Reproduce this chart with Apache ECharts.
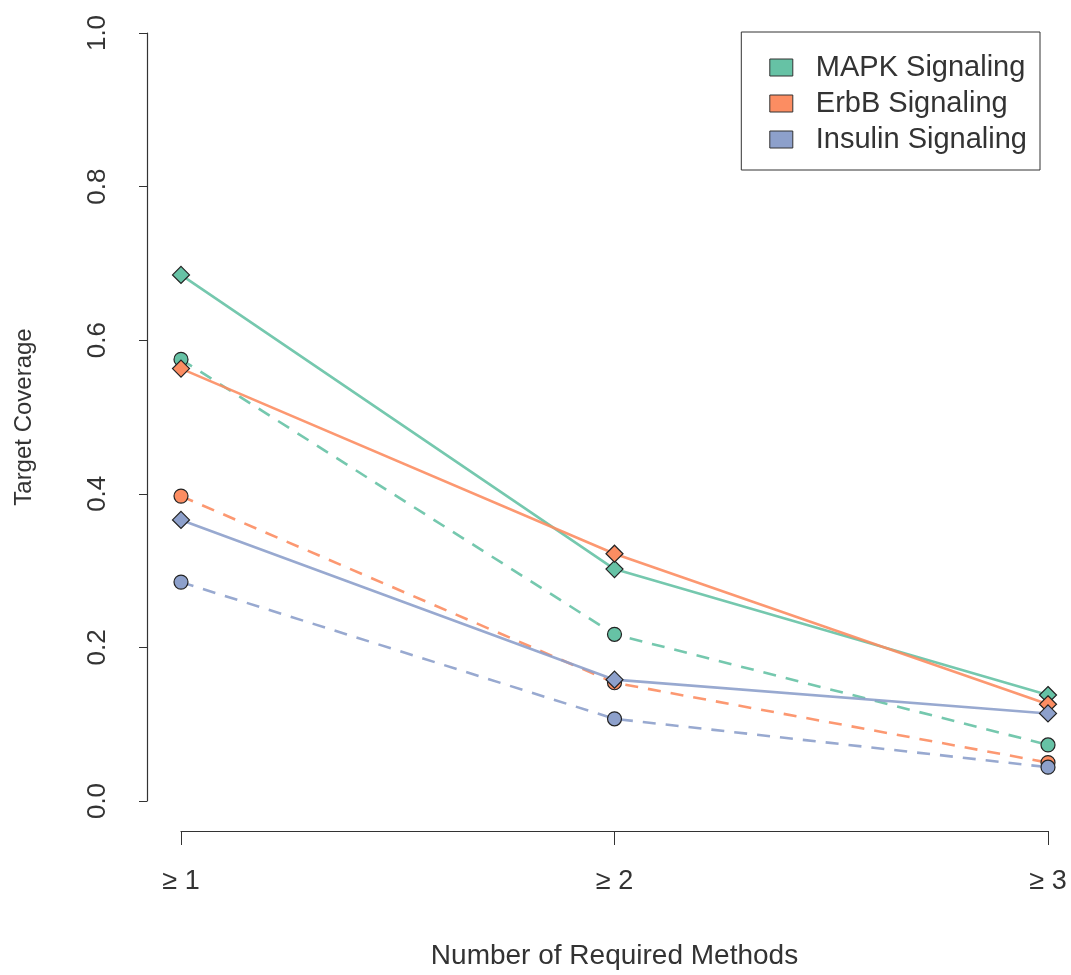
<!DOCTYPE html>
<html><head><meta charset="utf-8">
<script src="https://cdn.jsdelivr.net/npm/echarts@6/dist/echarts.min.js"></script>
<style>html,body{margin:0;padding:0;background:#fff}#c{width:1071px;height:975px}</style>
</head><body><div id="c"></div>
<script>
const categories = ['≥ 1', '≥ 2', '≥ 3'];
const yTicks = [0, 0.2, 0.4, 0.6, 0.8, 1.0];
const pathways = ['MAPK Signaling', 'ErbB Signaling', 'Insulin Signaling'];
const colors = ['#66C2A5', '#FC8D62', '#8DA0CB'];
const mapkSolid = [0.685, 0.302, 0.138];
const mapkDashed = [0.575, 0.217, 0.073];
const erbbSolid = [0.563, 0.322, 0.126];
const erbbDashed = [0.397, 0.154, 0.050];
const insulinSolid = [0.366, 0.158, 0.114];
const insulinDashed = [0.285, 0.107, 0.044];

const font = 'Liberation Sans, Arial, sans-serif';
function mk(name, data, color, dashed) {
  return {
    name: name, type: 'line', data: data,
    symbol: dashed ? 'circle' : 'diamond',
    symbolSize: dashed ? 14 : 17,
    itemStyle: { color: color, borderColor: '#222', borderWidth: 1.2 },
    lineStyle: { color: color, width: 2.6, type: dashed ? [13, 10] : 'solid', opacity: 0.9 },
    emphasis: { disabled: true }, animation: false, z: dashed ? 2 : 3
  };
}
const chart = echarts.init(document.getElementById('c'), null, { renderer: 'canvas' });
chart.setOption({
  backgroundColor: '#fff',
  animation: false,
  textStyle: { fontFamily: font },
  grid: { left: 181, right: 23, top: 33, bottom: 171 },
  legend: {
    right: 31, top: 32, orient: 'vertical',
    borderColor: '#333', borderWidth: 1, padding: [21, 13, 16, 28],
    itemWidth: 23, itemHeight: 17, itemGap: 7,
    textStyle: { fontFamily: font, fontSize: 29, lineHeight: 28, color: '#333', padding: [0, 0, 0, 18] },
    data: pathways.map((n, i) => ({ name: n, icon: 'rect', itemStyle: { color: colors[i], borderColor: '#333', borderWidth: 1 } }))
  },
  xAxis: {
    type: 'category', data: categories, boundaryGap: false, offset: 30,
    axisLine: { onZero: false, lineStyle: { color: '#333', width: 1.2 } },
    axisTick: { length: 14, lineStyle: { color: '#333' } },
    axisLabel: { fontSize: 27, color: '#333', margin: 37, fontFamily: font },
    splitLine: { show: false },
    name: 'Number of Required Methods', nameLocation: 'middle', nameGap: 111,
    nameTextStyle: { fontSize: 28, color: '#333', fontFamily: font }
  },
  yAxis: {
    type: 'value', min: 0, max: 1, interval: 0.2, offset: 34,
    axisLine: { show: true, onZero: false, lineStyle: { color: '#333', width: 1.2 } },
    axisTick: { show: true, length: 8, lineStyle: { color: '#333' } },
    axisLabel: { fontSize: 26, color: '#333', rotate: 90, margin: 36, fontFamily: font,
      formatter: v => { const t = yTicks.find(x => Math.abs(x - v) < 1e-9); return t === undefined ? '' : t.toFixed(1); } },
    splitLine: { show: false },
    name: 'Target Coverage', nameLocation: 'middle', nameGap: 111, nameRotate: 90,
    nameTextStyle: { fontSize: 24, color: '#333', fontFamily: font }
  },
  series: [
    mk(pathways[0], mapkDashed, colors[0], true),
    mk(pathways[1], erbbDashed, colors[1], true),
    mk(pathways[2], insulinDashed, colors[2], true),
    mk(pathways[0], mapkSolid, colors[0], false),
    mk(pathways[1], erbbSolid, colors[1], false),
    mk(pathways[2], insulinSolid, colors[2], false)
  ]
});
</script></body></html>
